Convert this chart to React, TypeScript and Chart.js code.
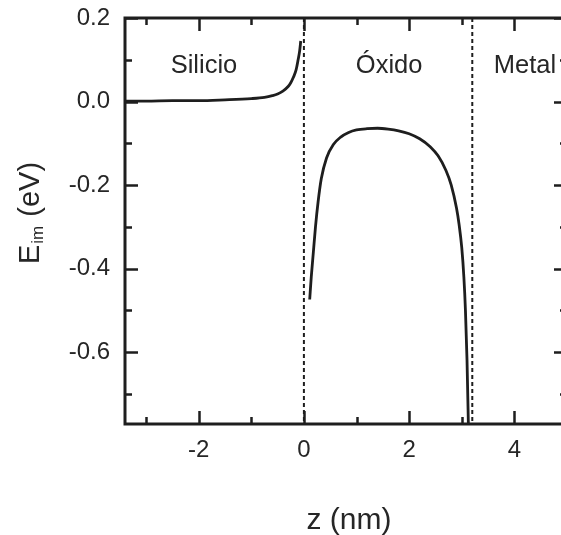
import { useEffect, useRef } from "react";
import { Chart, registerables } from "chart.js";

Chart.register(...registerables);

// ---- data ----
const siliconZ = [-3.4, -3.0, -2.5, -2.0, -1.5, -1.0, -0.75, -0.6, -0.5, -0.4, -0.3, -0.25, -0.2, -0.15, -0.11, -0.08, -0.06];
const siliconE = [0.001, 0.001, 0.002, 0.002, 0.004, 0.007, 0.01, 0.014, 0.018, 0.025, 0.036, 0.045, 0.058, 0.075, 0.1, 0.122, 0.145];

const oxideZ = [0.11, 0.14, 0.18, 0.22, 0.27, 0.33, 0.43, 0.56, 0.7, 0.85, 1.0, 1.2, 1.4, 1.6, 1.8, 2.0, 2.2, 2.4, 2.55, 2.7, 2.8, 2.9, 2.95, 3.0, 3.04, 3.07, 3.1, 3.13];
const oxideE = [-0.474, -0.42, -0.36, -0.3, -0.24, -0.185, -0.135, -0.103, -0.085, -0.074, -0.068, -0.065, -0.064, -0.066, -0.07, -0.077, -0.089, -0.108, -0.13, -0.165, -0.2, -0.255, -0.295, -0.35, -0.42, -0.5, -0.62, -0.8];

const interfaceZ = [0, 3.2];
const regionNames = ["Silicio", "Óxido", "Metal"];
const regionZ = [-1.9, 1.62, 4.2];
const regionE = 0.085;

const xMajorTicks = [-2, 0, 2, 4];
const xMinorTicks = [-3, -1, 1, 3];
const yMajorTicks = [0.2, 0.0, -0.2, -0.4, -0.6];
const yMinorTicks = [0.1, -0.1, -0.3, -0.5, -0.7];

const X_MIN = -3.4;
const X_MAX = 5;
const Y_MIN = -0.772;
const Y_MAX = 0.2;

const FONT = "'Liberation Sans', Arial, sans-serif";
const INK = "#1e1e1e";
const TEXT = "#262626";

const framePlugin = {
  id: "frame",
  afterDatasetsDraw(chart: any) {
    const { ctx, chartArea, scales } = chart;
    const { left, right, top, bottom } = chartArea;
    const xs = scales.x;
    const ys = scales.y;
    ctx.save();
    // region labels
    ctx.fillStyle = TEXT;
    ctx.font = `25.5px ${FONT}`;
    ctx.textAlign = "center";
    ctx.textBaseline = "middle";
    regionNames.forEach((name, i) => {
      ctx.fillText(name, xs.getPixelForValue(regionZ[i]), ys.getPixelForValue(regionE));
    });
    // ticks
    ctx.strokeStyle = INK;
    ctx.lineWidth = 2.5;
    ctx.lineCap = "butt";
    const xt = (vals: number[], len: number) => {
      vals.forEach((v) => {
        const px = Math.round(xs.getPixelForValue(v)) + 0.5;
        ctx.beginPath();
        ctx.moveTo(px, bottom);
        ctx.lineTo(px, bottom - len);
        ctx.moveTo(px, top);
        ctx.lineTo(px, top + len);
        ctx.stroke();
      });
    };
    const yt = (vals: number[], len: number) => {
      vals.forEach((v) => {
        const py = Math.round(ys.getPixelForValue(v)) + 0.5;
        ctx.beginPath();
        ctx.moveTo(left, py);
        ctx.lineTo(left + len, py);
        ctx.moveTo(right, py);
        ctx.lineTo(right - len, py);
        ctx.stroke();
      });
    };
    xt(xMajorTicks, 13);
    xt(xMinorTicks, 7);
    yt(yMajorTicks, 13);
    yt(yMinorTicks, 7);
    // frame
    ctx.lineWidth = 3;
    ctx.strokeRect(left, top, right - left, bottom - top);
    ctx.restore();

    // axis titles
    ctx.save();
    ctx.fillStyle = TEXT;
    ctx.font = `30px ${FONT}`;
    ctx.textAlign = "center";
    ctx.textBaseline = "alphabetic";
    ctx.fillText("z (nm)", 349, 529);
    ctx.restore();

    ctx.save();
    ctx.fillStyle = TEXT;
    ctx.translate(39, 264);
    ctx.rotate(-Math.PI / 2);
    ctx.textAlign = "left";
    ctx.textBaseline = "alphabetic";
    ctx.font = `29px ${FONT}`;
    ctx.fillText("E", 0, 0);
    const wE = ctx.measureText("E").width;
    ctx.font = `17px ${FONT}`;
    ctx.fillText("im", wE + 1, 4);
    const wIm = ctx.measureText("im").width;
    ctx.font = `29px ${FONT}`;
    ctx.fillText(" (eV)", wE + wIm + 2, 0);
    ctx.restore();
  },
};

export default function App() {
  const ref = useRef<HTMLCanvasElement | null>(null);
  useEffect(() => {
    if (!ref.current) return;
    const lineStyle = {
      borderColor: INK,
      borderWidth: 2.8,
      pointRadius: 0,
      fill: false,
      cubicInterpolationMode: "monotone" as const,
    };
    const chart = new Chart(ref.current, {
      type: "line",
      data: {
        datasets: [
          { ...lineStyle, data: siliconZ.map((z, i) => ({ x: z, y: siliconE[i] })) },
          { ...lineStyle, data: oxideZ.map((z, i) => ({ x: z, y: oxideE[i] })) },
          ...interfaceZ.map((z) => ({
            data: [
              { x: z, y: Y_MAX },
              { x: z, y: Y_MIN },
            ],
            borderColor: INK,
            borderWidth: 2,
            borderDash: [4, 3],
            pointRadius: 0,
            fill: false,
          })),
        ],
      },
      options: {
        responsive: false,
        animation: false,
        devicePixelRatio: 1,
        layout: { padding: { left: 0, right: 33, top: 18, bottom: 0 } },
        plugins: { legend: { display: false }, tooltip: { enabled: false } },
        scales: {
          x: {
            type: "linear",
            min: X_MIN,
            max: X_MAX,
            grid: { display: false, drawTicks: false },
            border: { display: false },
            afterBuildTicks: (s: any) => {
              s.ticks = xMajorTicks.map((v) => ({ value: v }));
            },
            afterFit: (s: any) => {
              s.height = 111;
              s.paddingLeft = 0;
              s.paddingRight = 0;
            },
            ticks: {
              padding: 12,
              color: TEXT,
              font: { family: FONT, size: 24 },
              callback: (v: any) => String(v),
            },
          },
          y: {
            type: "linear",
            min: Y_MIN,
            max: Y_MAX,
            grid: { display: false, drawTicks: false },
            border: { display: false },
            afterBuildTicks: (s: any) => {
              s.ticks = yMajorTicks.map((v) => ({ value: v }));
            },
            afterFit: (s: any) => {
              s.width = 125;
              s.paddingTop = 0;
              s.paddingBottom = 0;
            },
            ticks: {
              padding: 15,
              color: TEXT,
              font: { family: FONT, size: 24 },
              callback: (v: any) => Number(v).toFixed(1),
            },
          },
        },
      },
      plugins: [framePlugin],
    });
    return () => chart.destroy();
  }, []);

  return (
    <div
      style={{
        position: "fixed",
        left: 0,
        top: 0,
        width: 561,
        height: 535,
        overflow: "hidden",
        background: "#fff",
      }}
    >
      <canvas ref={ref} width={600} height={535} style={{ width: 600, height: 535, display: "block" }} />
    </div>
  );
}
